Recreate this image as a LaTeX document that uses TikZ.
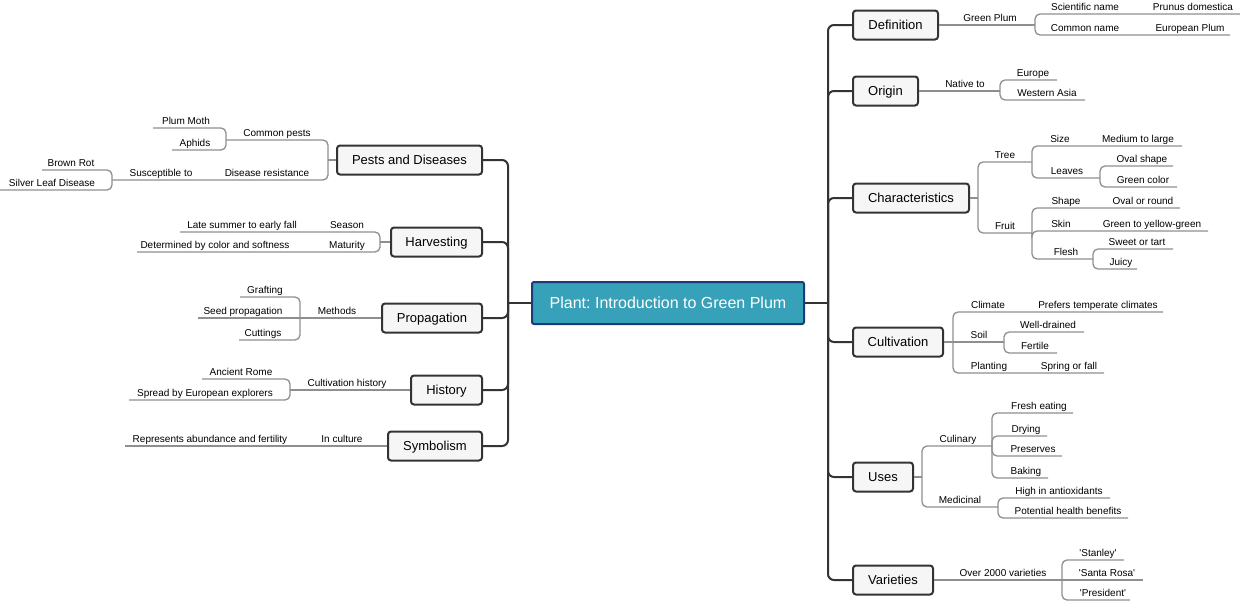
\documentclass[tikz,border=0pt]{standalone}
\usepackage{fontspec}
\setmainfont{Liberation Sans}[Ligatures=TeXOff]
\frenchspacing
\definecolor{rootfill}{HTML}{36A1B9}
\definecolor{rootline}{HTML}{1B3C78}
\definecolor{trunk}{HTML}{333333}
\definecolor{twig}{HTML}{8F8F8F}
\definecolor{boxfill}{HTML}{F6F6F6}
\tikzset{
  mainbox/.style={draw=trunk, line width=2pt, fill=boxfill, rounded corners=3pt,
    minimum height=29pt, inner sep=0pt, text=black, text height=9.3pt, text depth=0pt,
    font=\fontsize{13}{15}\selectfont},
  rootbox/.style={draw=rootline, line width=2pt, fill=rootfill, text=white, rounded corners=2pt,
    minimum width=272pt, minimum height=42pt, inner sep=0pt, text height=11.5pt, text depth=0pt,
    font=\fontsize{16}{18}\selectfont},
  lbl/.style={font=\fontsize{10}{12}\selectfont, inner sep=0pt, anchor=base, text=black},
  trunkline/.style={draw=trunk, line width=2pt, rounded corners=6pt},
  twigline/.style={draw=twig, line width=1.3pt, rounded corners=5pt},
}
\newcommand\mmlab[4]{\node[lbl] (#1) at (#2,#3-4) {#4};}
\begin{document}
\begin{tikzpicture}[x=1pt,y=-1pt]
\useasboundingbox (0,0) rectangle (1240,600);
% root
\node[rootbox] (root) at (668,303) {Plant: Introduction to Green Plum};
% right main nodes
\node[mainbox, anchor=west, minimum width=85pt]  (def) at (852,25)  {Definition};
\node[mainbox, anchor=west, minimum width=65pt]  (org) at (852,91)  {Origin};
\node[mainbox, anchor=west, minimum width=116pt] (cha) at (852,198) {Characteristics};
\node[mainbox, anchor=west, minimum width=90pt]  (cul) at (852,342) {Cultivation};
\node[mainbox, anchor=west, minimum width=60pt]  (use) at (852,477) {Uses};
\node[mainbox, anchor=west, minimum width=80pt]  (var) at (852,580) {Varieties};
% left main nodes
\node[mainbox, anchor=east, minimum width=145pt] (pst) at (483,160) {Pests and Diseases};
\node[mainbox, anchor=east, minimum width=91pt]  (hrv) at (483,242) {Harvesting};
\node[mainbox, anchor=east, minimum width=100pt] (prp) at (483,318) {Propagation};
\node[mainbox, anchor=east, minimum width=71pt]  (his) at (483,390) {History};
\node[mainbox, anchor=east, minimum width=94pt]  (sym) at (483,446) {Symbolism};
% trunks
\coordinate (rj) at (828,303);
\coordinate (lj) at (508,303);
\draw[trunkline] (root.east) -- (rj);
\draw[trunkline] (root.west) -- (lj);
\foreach \n in {def,org,cha,cul,use,var} \draw[trunkline] (rj) |- (\n.west);
\foreach \n in {pst,hrv,prp,his,sym} \draw[trunkline] (lj) |- (\n.east);
% ---------- right twigs
\draw[twigline] (def.east) -- (1035,25);
\draw[twigline] (1035,25) |- (1240,14);
\draw[twigline] (1035,25) |- (1230,35);
\draw[twigline] (org.east) -- (1000,91);
\draw[twigline] (1000,91) |- (1057,80);
\draw[twigline] (1000,91) |- (1085,100);
\draw[twigline] (cha.east) -- (978,198);
\draw[twigline] (978,198) |- (1032,162);
\draw[twigline] (978,198) |- (1032,233);
\draw[twigline] (1032,162) |- (1182,146);
\draw[twigline] (1032,162) |- (1100,178);
\draw[twigline] (1100,178) |- (1173,166);
\draw[twigline] (1100,178) |- (1177,187);
\draw[twigline] (1032,233) |- (1180,208);
\draw[twigline] (1032,233) |- (1208,231);
\draw[twigline] (1032,233) |- (1093,259);
\draw[twigline] (1093,259) |- (1173,249);
\draw[twigline] (1093,259) |- (1137,269);
\draw[twigline] (cul.east) -- (953,342);
\draw[twigline] (953,342) |- (1163,312);
\draw[twigline] (953,342) -- (1004,342);
\draw[twigline] (953,342) |- (1104,373);
\draw[twigline] (1004,342) |- (1084,332);
\draw[twigline] (1004,342) |- (1057,353);
\draw[twigline] (use.east) -- (922,477);
\draw[twigline] (922,477) |- (992,446);
\draw[twigline] (922,477) |- (998,507);
\draw[twigline] (992,446) |- (1073,413);
\draw[twigline] (992,446) |- (1047,436);
\draw[twigline] (992,446) |- (1062,456);
\draw[twigline] (992,446) |- (1048,478);
\draw[twigline] (998,507) |- (1110,498);
\draw[twigline] (998,507) |- (1128,518);
\draw[twigline] (var.east) -- (1062,580);
\draw[twigline] (1062,580) |- (1124,560);
\draw[twigline] (1062,580) -- (1143,580);
\draw[twigline] (1062,580) |- (1130,600);
% ---------- left twigs
\draw[twigline] (pst.west) -- (328,160);
\draw[twigline] (328,160) |- (226,140);
\draw[twigline] (328,160) |- (112,180);
\draw[twigline] (226,140) |- (153,128);
\draw[twigline] (226,140) |- (172,150);
\draw[twigline] (112,180) |- (42,170);
\draw[twigline] (112,180) |- (0,190);
\draw[twigline] (hrv.west) -- (380,242);
\draw[twigline] (380,242) |- (180,232);
\draw[twigline] (380,242) |- (137,252);
\draw[twigline] (prp.west) -- (300,318);
\draw[twigline] (300,318) |- (240,297);
\draw[twigline] (300,318) -- (198,318);
\draw[twigline] (300,318) |- (239,340);
\draw[twigline] (his.west) -- (290,390);
\draw[twigline] (290,390) |- (202,379);
\draw[twigline] (290,390) |- (129,400);
\draw[twigline] (sym.west) -- (125,446);
% ---------- right labels
\mmlab{a1}{990}{25}{Green Plum}
\mmlab{a2}{1085}{14}{Scientific name}
\mmlab{a3}{1193}{14}{Prunus domestica}
\mmlab{a4}{1085}{35}{Common name}
\mmlab{a5}{1190}{35}{European Plum}
\mmlab{b1}{965}{91}{Native to}
\mmlab{b2}{1033}{80}{Europe}
\mmlab{b3}{1047}{100}{Western Asia}
\mmlab{c1}{1005}{162}{Tree}
\mmlab{c2}{1060}{146}{Size}
\mmlab{c3}{1138}{146}{Medium to large}
\mmlab{c4}{1067}{178}{Leaves}
\mmlab{c5}{1142}{166}{Oval shape}
\mmlab{c6}{1143}{187}{Green color}
\mmlab{c7}{1005}{233}{Fruit}
\mmlab{c8}{1066}{208}{Shape}
\mmlab{c9}{1143}{208}{Oval or round}
\mmlab{c10}{1061}{231}{Skin}
\mmlab{c11}{1152}{231}{Green to yellow-green}
\mmlab{c12}{1066}{259}{Flesh}
\mmlab{c13}{1137}{249}{Sweet or tart}
\mmlab{c14}{1121}{269}{Juicy}
\mmlab{d1}{988}{312}{Climate}
\mmlab{d2}{1098}{312}{Prefers temperate climates}
\mmlab{d3}{979}{342}{Soil}
\mmlab{d4}{1048}{332}{Well-drained}
\mmlab{d5}{1035}{353}{Fertile}
\mmlab{d6}{989}{373}{Planting}
\mmlab{d7}{1069}{373}{Spring or fall}
\mmlab{e1}{958}{446}{Culinary}
\mmlab{e2}{1039}{413}{Fresh eating}
\mmlab{e3}{1026}{436}{Drying}
\mmlab{e4}{1033}{456}{Preserves}
\mmlab{e5}{1026}{478}{Baking}
\mmlab{e6}{960}{507}{Medicinal}
\mmlab{e7}{1059}{498}{High in antioxidants}
\mmlab{e8}{1068}{518}{Potential health benefits}
\mmlab{f1}{1003}{580}{Over 2000 varieties}
\mmlab{f2}{1098}{560}{'Stanley'}
\mmlab{f3}{1107}{580}{'Santa Rosa'}
\mmlab{f4}{1103}{600}{'President'}
% ---------- left labels
\mmlab{g1}{277}{140}{Common pests}
\mmlab{g2}{186}{128}{Plum Moth}
\mmlab{g3}{195}{150}{Aphids}
\mmlab{g4}{267}{180}{Disease resistance}
\mmlab{g5}{161}{180}{Susceptible to}
\mmlab{g6}{71}{170}{Brown Rot}
\mmlab{g7}{52}{190}{Silver Leaf Disease}
\mmlab{h1}{347}{232}{Season}
\mmlab{h2}{242}{232}{Late summer to early fall}
\mmlab{h3}{347}{252}{Maturity}
\mmlab{h4}{215}{252}{Determined by color and softness}
\mmlab{i1}{337}{318}{Methods}
\mmlab{i2}{265}{297}{Grafting}
\mmlab{i3}{243}{318}{Seed propagation}
\mmlab{i4}{263}{340}{Cuttings}
\mmlab{j1}{347}{390}{Cultivation history}
\mmlab{j2}{241}{379}{Ancient Rome}
\mmlab{j3}{205}{400}{Spread by European explorers}
\mmlab{k1}{342}{446}{In culture}
\mmlab{k2}{210}{446}{Represents abundance and fertility}
\end{tikzpicture}
\end{document}
